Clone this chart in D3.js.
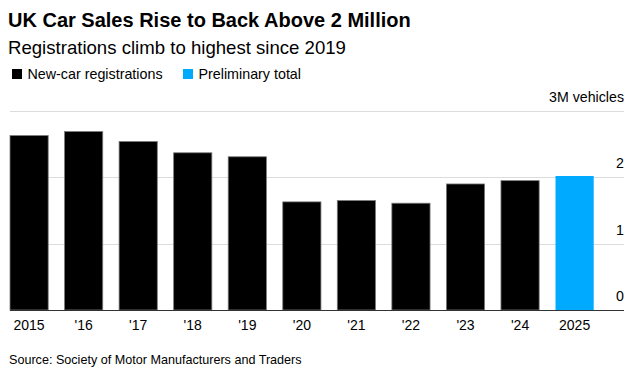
<!DOCTYPE html>
<html>
<head>
<meta charset="utf-8">
<script src="https://cdn.jsdelivr.net/npm/d3@7"></script>
<style>
  body { margin: 0; background: #fff; }
  text { font-family: "Liberation Sans", Arial, sans-serif; fill: #000; }
</style>
</head>
<body>
<div id="chart"></div>
<script>
// data
const years = [2015, 2016, 2017, 2018, 2019, 2020, 2021, 2022, 2023, 2024, 2025];
const yearLabels = ["2015", "'16", "'17", "'18", "'19", "'20", "'21", "'22", "'23", "'24", "2025"];
const registrations = [2.63, 2.69, 2.54, 2.37, 2.31, 1.63, 1.65, 1.61, 1.90, 1.95, 2.02];
const preliminary = [false, false, false, false, false, false, false, false, false, false, true];
const yTicks = [0, 1, 2, 3];
const yTickLabels = ["0", "1", "2", "3M vehicles"];
const legendItems = ["New-car registrations", "Preliminary total"];

const width = 640, height = 374;
const plot = {left: 10, right: 624, top: 111, bottom: 310};
const black = "#000", blue = "#00aaff";

const svg = d3.select("#chart").append("svg")
    .attr("width", width)
    .attr("height", height);

const x = d3.scaleBand()
    .domain(years)
    .range([plot.left, 593.7])
    .paddingInner(0.3)
    .paddingOuter(0);

const y = d3.scaleLinear()
    .domain([0, 3])
    .range([plot.bottom, plot.top]);

// titles
svg.append("text")
    .attr("x", 8).attr("y", 27)
    .style("font-size", "20px").style("font-weight", "bold")
    .text("UK Car Sales Rise to Back Above 2 Million");

svg.append("text")
    .attr("x", 8).attr("y", 54)
    .style("font-size", "18.6px")
    .text("Registrations climb to highest since 2019");

// legend
const legendX = [12, 183];
legendItems.forEach((name, i) => {
    svg.append("rect")
        .attr("x", legendX[i]).attr("y", 69)
        .attr("width", 10).attr("height", 10)
        .attr("fill", i === 0 ? black : blue);
    svg.append("text")
        .attr("x", legendX[i] + 15.5).attr("y", 79)
        .style("font-size", "14.3px")
        .text(name);
});

// gridlines + right-side labels
const grid = svg.append("g");
grid.selectAll("line")
    .data(yTicks.filter(d => d > 0))
  .enter().append("line")
    .attr("x1", plot.left).attr("x2", plot.right)
    .attr("y1", d => Math.round(y(d)) + 0.5)
    .attr("y2", d => Math.round(y(d)) + 0.5)
    .attr("stroke", "#dcdcdc")
    .attr("stroke-width", 1);

grid.selectAll("text")
    .data(yTicks)
  .enter().append("text")
    .attr("x", plot.right)
    .attr("y", d => y(d) - 9)
    .attr("text-anchor", "end")
    .style("font-size", "14.2px")
    .text((d, i) => yTickLabels[i]);

// bars
svg.append("g").selectAll("rect")
    .data(years)
  .enter().append("rect")
    .attr("x", d => x(d))
    .attr("y", (d, i) => y(registrations[i]))
    .attr("width", x.bandwidth())
    .attr("height", (d, i) => y(0) - y(registrations[i]))
    .attr("fill", (d, i) => preliminary[i] ? blue : black)
    .attr("stroke", (d, i) => preliminary[i] ? "none" : "#7a7a7a")
    .attr("stroke-width", 0.8);

// x axis
const xAxis = d3.axisBottom(x)
    .tickSize(0)
    .tickPadding(10)
    .tickFormat((d, i) => yearLabels[i]);

const gx = svg.append("g")
    .attr("transform", `translate(0,${plot.bottom})`)
    .call(xAxis);
gx.select(".domain").remove();
gx.selectAll("text")
    .style("font-size", "14px")
    .style("font-family", "'Liberation Sans', Arial, sans-serif")
    .attr("fill", "#000");

svg.append("line")
    .attr("x1", plot.left).attr("x2", plot.right)
    .attr("y1", plot.bottom + 0.5).attr("y2", plot.bottom + 0.5)
    .attr("stroke", "#333")
    .attr("stroke-width", 1.2);

// source
svg.append("text")
    .attr("x", 9).attr("y", 364)
    .style("font-size", "12.6px")
    .text("Source: Society of Motor Manufacturers and Traders");
</script>
</body>
</html>
